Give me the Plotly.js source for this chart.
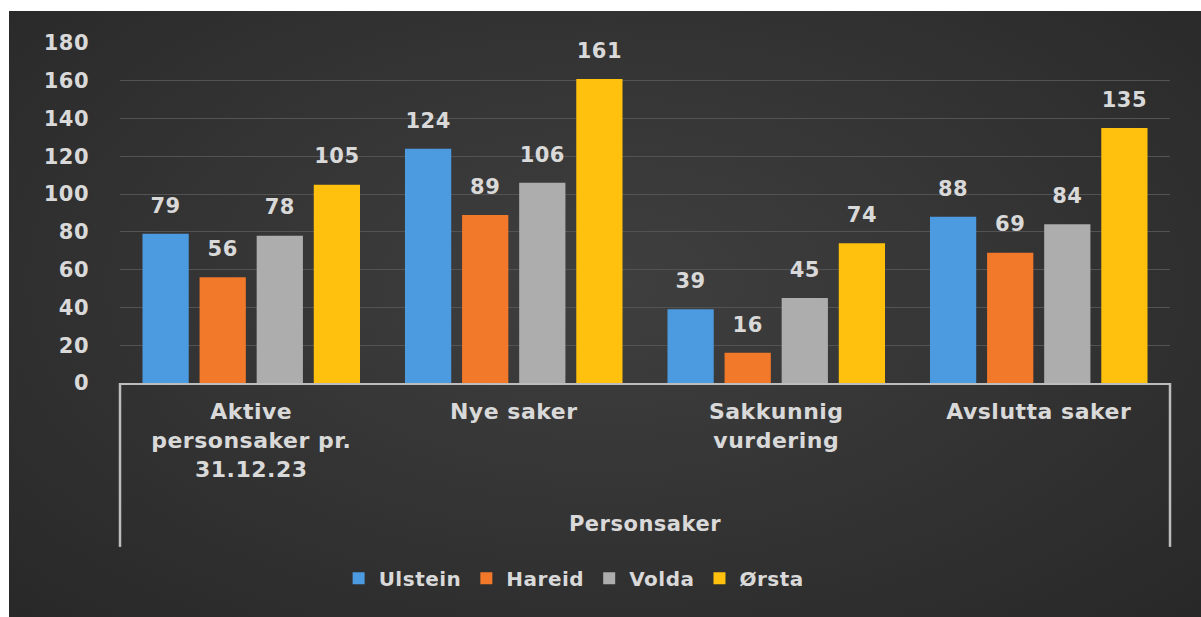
<!DOCTYPE html>
<html>
<head>
<meta charset="utf-8">
<script src="https://cdn.plot.ly/plotly-3.0.1.min.js"></script>
<style>
  html, body { margin: 0; padding: 0; background: #ffffff; }
  #chart {
    position: absolute; left: 9px; top: 11px; width: 1192px; height: 606px;
    background: radial-gradient(ellipse at 50% 45%, #3f3f3f 0%, #353535 45%, #282828 100%);
  }
  svg text { letter-spacing: 0.5px; }
</style>
</head>
<body>
<div id="chart"></div>
<script>
const categories = ["Aktive<br>personsaker pr.<br>31.12.23", "Nye saker", "Sakkunnig<br>vurdering", "Avslutta saker"];
const groupTitle = "Personsaker";
const seriesNames = ["Ulstein", "Hareid", "Volda", "Ørsta"];
const ulstein = [79, 124, 39, 88];
const hareid  = [56, 89, 16, 69];
const volda   = [78, 106, 45, 84];
const orsta   = [105, 161, 74, 135];
const seriesColors = ["#4c9be0", "#f2782a", "#adadad", "#ffc10e"];
const yTicks = [0, 20, 40, 60, 80, 100, 120, 140, 160, 180];

const allValues = [ulstein, hareid, volda, orsta];
const textColor = "#d9d9d9";
const fontFam = "DejaVu Sans, Verdana, sans-serif";
const W = "bold";

const traces = [];
allValues.forEach((vals, i) => {
  traces.push({
    type: "bar", name: seriesNames[i], x: categories, y: vals,
    marker: { color: seriesColors[i] }, hoverinfo: "x+y+name"
  });
});
allValues.forEach((vals, i) => {
  traces.push({
    type: "scatter", mode: "markers+text", x: categories, y: vals,
    text: vals.map(String), textposition: "top center",
    textfont: { family: fontFam, size: 21, color: textColor, weight: W },
    marker: { size: 24, color: "rgba(0,0,0,0)" },
    showlegend: false, hoverinfo: "skip", cliponaxis: false
  });
});

const layout = {
  width: 1192, height: 606,
  paper_bgcolor: "rgba(0,0,0,0)", plot_bgcolor: "rgba(0,0,0,0)",
  margin: { l: 111, r: 31, t: 32, b: 234 },
  barmode: "group", bargap: 0.13, bargroupgap: 0.19,
  scattermode: "group", scattergap: 0.13,
  font: { family: fontFam, color: textColor, size: 21, weight: W },
  showlegend: true,
  legend: {
    orientation: "h", x: 0.4325, xanchor: "center", y: -0.574, yanchor: "middle",
    font: { family: fontFam, size: 20, color: textColor, weight: W }, bgcolor: "rgba(0,0,0,0)"
  },
  xaxis: {
    type: "category", showgrid: false, zeroline: false,
    showline: true, linecolor: "#bdbdbd", linewidth: 2,
    ticks: "", ticklabelstandoff: 8,
    tickfont: { family: fontFam, size: 22, color: textColor, weight: W },
    title: { text: groupTitle, standoff: 36, font: { family: fontFam, size: 21, color: textColor, weight: W } },
    fixedrange: true
  },
  yaxis: {
    range: [0, 180], tickvals: yTicks, ticktext: yTicks.map(String),
    showgrid: true, gridcolor: "#535353", gridwidth: 1,
    zeroline: false, showline: false, ticks: "", ticklabelstandoff: 30,
    tickfont: { family: fontFam, size: 21, color: textColor, weight: W },
    fixedrange: true
  },
  shapes: [
    { type: "line", xref: "paper", yref: "paper", x0: 0, x1: 0, y0: 0, y1: -0.482,
      line: { color: "#bdbdbd", width: 2.5 } },
    { type: "line", xref: "paper", yref: "paper", x0: 1, x1: 1, y0: 0, y1: -0.482,
      line: { color: "#bdbdbd", width: 2.5 } }
  ]
};

Plotly.newPlot("chart", traces, layout, { displayModeBar: false });
</script>
</body>
</html>
